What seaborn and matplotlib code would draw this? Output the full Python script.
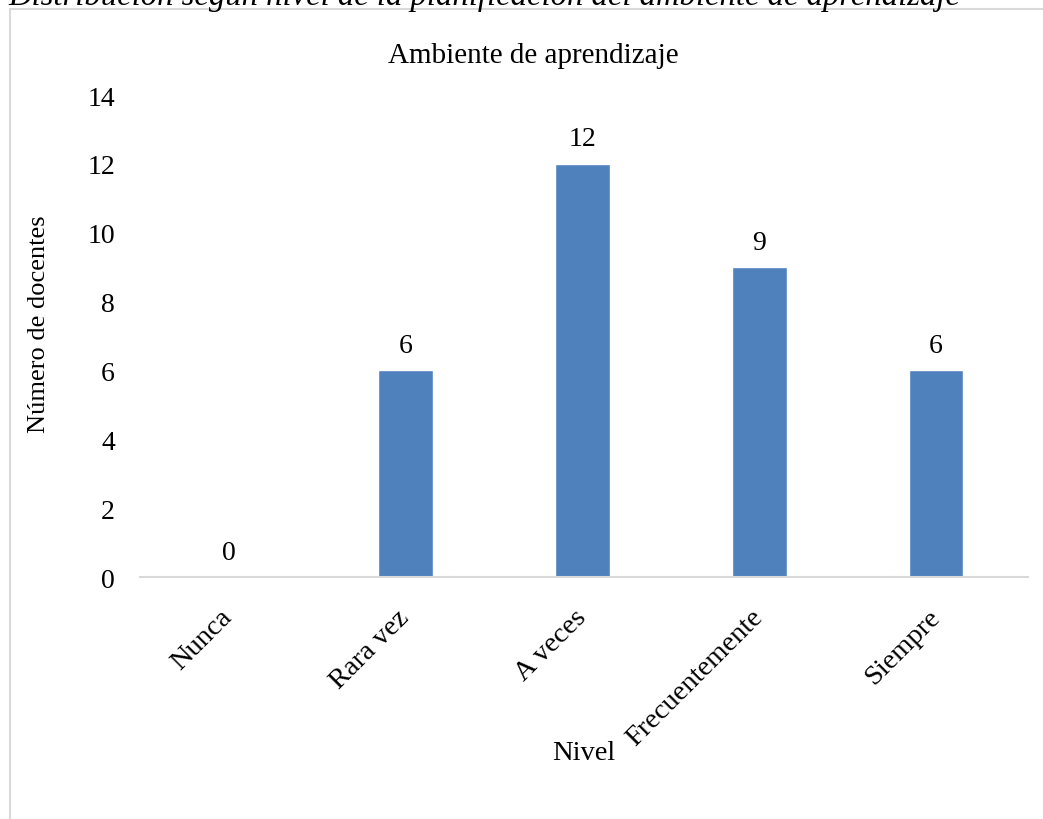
import matplotlib
matplotlib.use("Agg")
import matplotlib.pyplot as plt
import seaborn as sns
import pandas as pd
from matplotlib.patches import Rectangle

categories = ["Nunca", "Rara vez", "A veces", "Frecuentemente", "Siempre"]
values = [0, 6, 12, 9, 6]
yticks = [0, 2, 4, 6, 8, 10, 12, 14]

sns.set_theme(style="white")
plt.rcParams['font.family'] = ['Liberation Serif', 'DejaVu Serif']
for k in ['text.color', 'axes.labelcolor', 'xtick.color', 'ytick.color']:
    plt.rcParams[k] = 'black'

df = pd.DataFrame({"Nivel": categories, "Docentes": values})

fig = plt.figure(figsize=(10.43, 8.2), dpi=100)
ax = fig.add_axes([140/1043, 242/820, 888/1043, 482/820])

sns.barplot(data=df, x="Nivel", y="Docentes", color="#4f81bd", width=0.31,
            saturation=1, ax=ax)

ax.set_ylim(0, 14)
ax.set_xlim(-0.5, 4.52)
ax.set_yticks(yticks)
ax.set_yticklabels([str(t) for t in yticks], fontsize=20)
ax.tick_params(axis='y', length=0, pad=18)
ax.tick_params(axis='x', length=0, pad=26)
plt.setp(ax.get_xticklabels(), rotation=45, ha='right', va='center',
         rotation_mode='anchor', fontsize=20.5)

for s in ['top', 'right', 'left']:
    ax.spines[s].set_visible(False)
ax.spines['bottom'].set_color('#d9d9d9')
ax.spines['bottom'].set_linewidth(1.5)

for i, v in enumerate(values):
    ax.annotate(str(v), (i, v), xytext=(0, 9), textcoords='offset points',
                ha='center', va='bottom', fontsize=20)

ax.set_title("Ambiente de aprendizaje", fontsize=21, pad=24,
             x=(533 - 140) / 888)
ax.set_xlabel("Nivel", fontsize=20.5, labelpad=-7.5)
ax.set_ylabel("Número de docentes", fontsize=19)
ax.yaxis.set_label_coords((50 - 140) / 888, (578 - 324) / 482)

fig.patches.append(Rectangle((10/1043, -0.1), 1.2, 1 - 10/820 + 0.1,
                             transform=fig.transFigure, fill=False,
                             edgecolor='#d9d9d9', linewidth=1.5))
fig.text(8/1043, 1 - 5/820,
         "Distribución según nivel de la planificación del ambiente de aprendizaje",
         fontsize=23.5, style='italic', ha='left', va='baseline')

fig.savefig("out.png", dpi=100)
